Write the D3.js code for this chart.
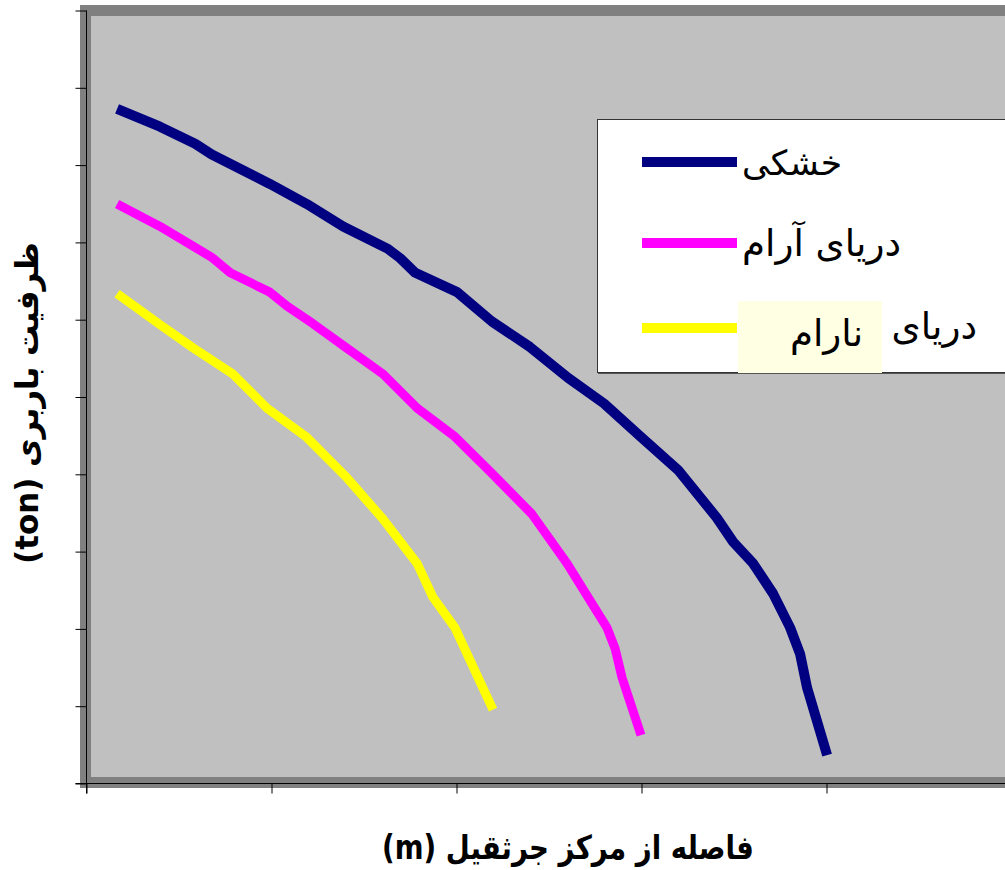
<!DOCTYPE html>
<html>
<head>
<meta charset="utf-8">
<script src="https://cdn.jsdelivr.net/npm/d3@7"></script>
<style>
  html, body { margin: 0; padding: 0; background: #fff; }
  svg { display: block; }
</style>
</head>
<body>
<svg id="chart" width="1005" height="870"></svg>
<script>
// ---- data (x: distance from crane centre, m; y: capacity, ton) ----
const seriesNames = ["خشکی", "دریای آرام", "دریای نارام"];
const seriesColors = ["#000080", "#FF00FF", "#FFFF00"];

const dryX = [0.84, 2.0, 2.95, 3.4, 4.97, 5.97, 6.95, 8.16, 8.49, 8.9, 10.03, 10.97, 12.0, 13.03, 14.0, 14.97, 16.0, 17.05, 17.49, 18.03, 18.57, 19.03, 19.3, 19.49, 20.03];
const dryY = [87.2, 84.9, 82.7, 81.3, 77.5, 74.9, 72.0, 69.1, 67.9, 66.0, 63.5, 59.7, 56.4, 52.4, 49.1, 44.9, 40.5, 34.3, 31.2, 28.4, 24.5, 20.1, 16.7, 12.3, 3.6];

const calmX = [0.84, 2.0, 3.4, 3.9, 4.97, 5.43, 6.14, 6.95, 8.03, 8.95, 9.97, 10.92, 12.05, 13.0, 14.08, 14.3, 14.49, 15.0];
const calmY = [74.9, 72.0, 68.0, 66.0, 63.5, 61.7, 59.4, 56.6, 52.9, 48.5, 44.8, 40.3, 34.8, 28.4, 20.1, 17.4, 13.6, 6.2];

const roughX = [0.84, 2.0, 2.89, 3.97, 4.89, 5.97, 7.05, 8.0, 8.95, 9.38, 9.97, 11.0];
const roughY = [63.3, 59.3, 56.3, 52.9, 48.5, 44.7, 39.5, 34.3, 28.4, 24.0, 20.1, 9.5];

const xTicks = [0, 5, 10, 15, 20, 25];
const yTicks = [0, 10, 20, 30, 40, 50, 60, 70, 80, 90, 100];

const xTitle = "فاصله از مرکز جرثقیل (m)";
const yTitle = "ظرفیت باربری (ton)";

// ---- layout ----
const svg = d3.select("#chart");
const x = d3.scaleLinear().domain([0, 25]).range([86, 1011]);
const y = d3.scaleLinear().domain([0, 100]).range([783, 10]);

// plot area with thick grey frame
svg.append("rect")
  .attr("x", 85.5).attr("y", 10.5)
  .attr("width", 1100).attr("height", 772)
  .attr("fill", "#C0C0C0")
  .attr("stroke", "#808080")
  .attr("stroke-width", 11);

// axes
const yAxis = d3.axisLeft(y).tickValues(yTicks).tickSize(11).tickFormat("");
const xAxis = d3.axisBottom(x).tickValues(xTicks).tickSize(10).tickFormat("");

const gy = svg.append("g").attr("transform", "translate(86.5,0.5)").call(yAxis);
gy.select(".domain").attr("d", `M0,${y(100)}V793`).attr("stroke", "#000");
gy.selectAll(".tick line").attr("stroke", "#000");

const gx = svg.append("g").attr("transform", "translate(0.5,783.5)").call(xAxis);
gx.select(".domain").attr("d", `M75,0H1010`).attr("stroke", "#000");
gx.selectAll(".tick line").attr("stroke", "#000");

// series lines
const line = d3.line().x(d => x(d[0])).y(d => y(d[1]));
const series = [
  d3.zip(dryX, dryY),
  d3.zip(calmX, calmY),
  d3.zip(roughX, roughY)
];
const widths = [10, 9, 9];
series.forEach((pts, i) => {
  svg.append("path")
    .attr("d", line(pts))
    .attr("fill", "none")
    .attr("stroke", seriesColors[i])
    .attr("stroke-width", widths[i])
    .attr("stroke-linejoin", "round")
    .attr("stroke-linecap", "butt");
});

// legend
const lg = svg.append("g");
lg.append("rect")
  .attr("x", 597.5).attr("y", 119.5)
  .attr("width", 500).attr("height", 253)
  .attr("fill", "#fff")
  .attr("stroke", "#333")
  .attr("stroke-width", 1);
lg.append("line")
  .attr("x1", 598).attr("x2", 1005).attr("y1", 373.5).attr("y2", 373.5)
  .attr("stroke", "#555").attr("stroke-width", 1);

// highlight behind the third label's second word
lg.append("rect")
  .attr("x", 738).attr("y", 301).attr("width", 144).attr("height", 72)
  .attr("fill", "#FFFFE3");

const legendLineY = [162, 243, 328];
legendLineY.forEach((ly, i) => {
  lg.append("line")
    .attr("x1", 642).attr("x2", 737)
    .attr("y1", ly).attr("y2", ly)
    .attr("stroke", seriesColors[i])
    .attr("stroke-width", 10);
});

const fontFamily = "'DejaVu Sans', 'Noto Sans', sans-serif";
function fitText(sel, target) {
  const w = sel.node().getBBox().width;
  const fs = parseFloat(sel.attr("font-size"));
  if (w > 0) sel.attr("font-size", fs * target / w);
}
// keep glyph height, squeeze horizontally to a target width
function squeeze(sel, target, cx, cy, rot) {
  const w = sel.node().getBBox().width;
  const s = w > 0 ? target / w : 1;
  sel.attr("transform", `translate(${cx},${cy}) rotate(${rot}) scale(${s},1)`);
}

// legend labels (right edge positions)
const lab1 = lg.append("text").text(seriesNames[0])
  .attr("x", 842).attr("y", 175)
  .attr("direction", "rtl").attr("text-anchor", "start")
  .attr("font-family", fontFamily).attr("font-size", 32).attr("fill", "#000");
fitText(lab1, 100);
const lab2 = lg.append("text").text(seriesNames[1])
  .attr("x", 901).attr("y", 256)
  .attr("direction", "rtl").attr("text-anchor", "start")
  .attr("font-family", fontFamily).attr("font-size", 32).attr("fill", "#000");
fitText(lab2, 159);
const fs2 = parseFloat(lab2.attr("font-size"));
const parts3 = seriesNames[2].split(" ");
lg.append("text").text(parts3[0])
  .attr("x", 977).attr("y", 339)
  .attr("direction", "rtl").attr("text-anchor", "start")
  .attr("font-family", fontFamily).attr("font-size", fs2).attr("fill", "#000");
lg.append("text").text(parts3[1])
  .attr("x", 863).attr("y", 346)
  .attr("direction", "rtl").attr("text-anchor", "start")
  .attr("font-family", fontFamily).attr("font-size", fs2).attr("fill", "#000");

// axis titles
const xt = svg.append("text").text(xTitle)
  .attr("x", 0).attr("y", 0)
  .attr("direction", "rtl").attr("text-anchor", "middle")
  .attr("font-family", fontFamily).attr("font-weight", "bold")
  .attr("font-size", 33).attr("fill", "#000");
squeeze(xt, 372, 568, 859, 0);

const yt = svg.append("text").text(yTitle)
  .attr("x", 0).attr("y", 0)
  .attr("direction", "rtl").attr("text-anchor", "middle")
  .attr("font-family", fontFamily).attr("font-weight", "bold")
  .attr("font-size", 32).attr("fill", "#000");
squeeze(yt, 322, 38, 403, -90);
</script>
</body>
</html>
